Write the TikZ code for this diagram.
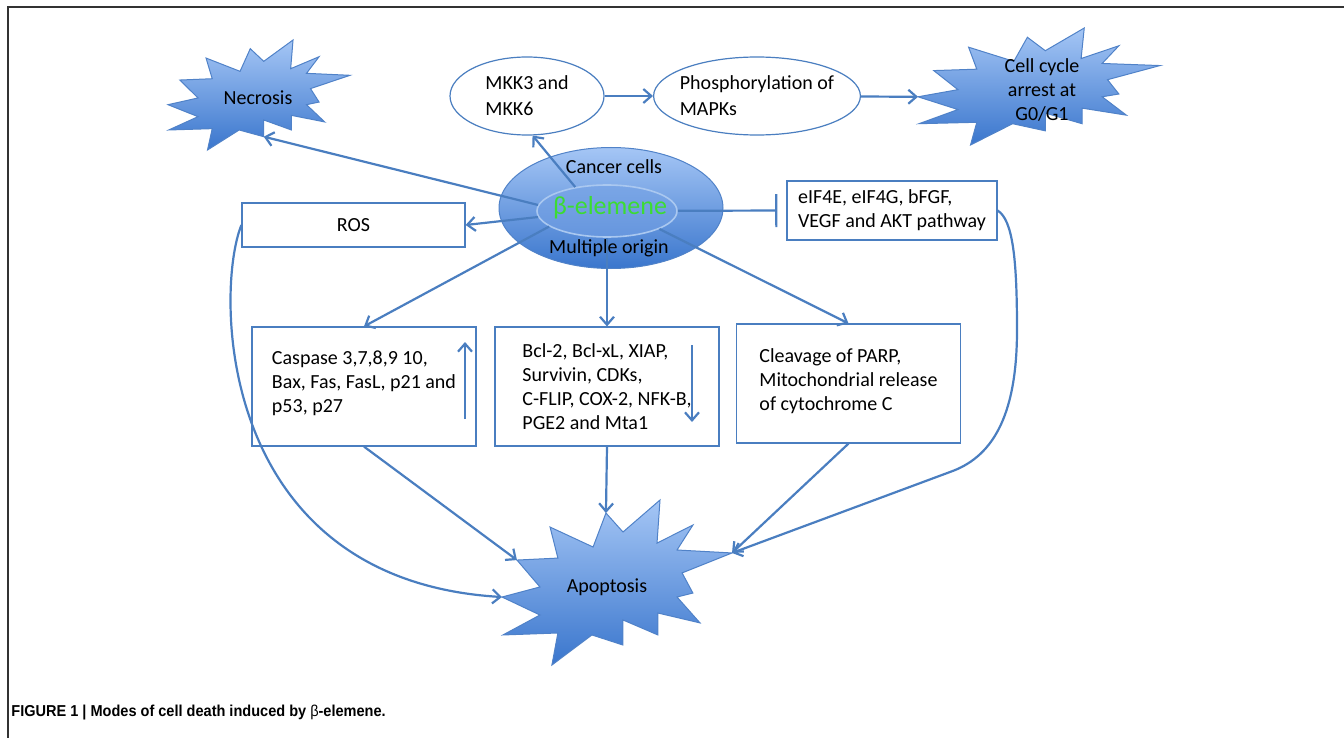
\documentclass[tikz,border=0pt]{standalone}
\usepackage{fontspec}
\setmainfont{Carlito}
\newfontfamily\capfont[FakeStretch=0.92]{Liberation Sans}
\usepackage{tikz}
\usetikzlibrary{arrows.meta,shapes.geometric}

\definecolor{linkblue}{RGB}{74,126,192}
\definecolor{burstlight}{RGB}{165,198,245}
\definecolor{burstdark}{RGB}{58,118,205}
\definecolor{burstline}{RGB}{80,130,200}
\definecolor{innertop}{RGB}{122,166,230}
\definecolor{innerbottom}{RGB}{102,150,222}
\definecolor{innerline}{RGB}{170,200,240}
\definecolor{betagreen}{RGB}{60,220,50}

\tikzset{
  burst/.style={draw=burstline, line width=0.5pt, top color=burstlight, bottom color=burstdark},
  box/.style={draw=linkblue, line width=0.6pt, rectangle, inner sep=0pt, align=left, minimum width=112pt, minimum height=59.5pt},
  oval/.style={draw=linkblue, line width=0.6pt, ellipse, fill=white, inner sep=-2pt, align=left, font=\fontsize{10}{13}\selectfont},
  link/.style={draw=linkblue, line width=1.1pt, -{Straight Barb[length=4pt,width=7pt]}},
  inhib/.style={draw=linkblue, line width=1.1pt, -{Bar[width=16.5pt]}},
}

% explosion outline: name, left, top, width, height
\newcommand{\burstshape}[5]{%
  \begin{scope}[shift={(#2,#3)}, xscale=#4, yscale=#5]
    \path[burst] (0,0.588) coordinate (#1-w) -- (0.165,0.527) -- (0.065,0.364) coordinate (#1-nw)
      -- (0.243,0.352) -- (0.209,0.164) -- (0.396,0.285) -- (0.452,0.079) coordinate (#1-n)
      -- (0.526,0.194) -- (0.687,0) -- (0.674,0.261) -- (0.830,0.152) -- (0.761,0.303)
      -- (1,0.321) coordinate (#1-e) -- (0.783,0.442) -- (0.830,0.564) -- (0.761,0.588)
      -- (0.861,0.745) -- (0.678,0.685) -- (0.678,0.818) -- (0.526,0.727)
      -- (0.526,0.879) coordinate (#1-s) -- (0.391,0.818) -- (0.217,1) -- (0.243,0.806)
      -- (0.004,0.818) -- (0.165,0.697) -- cycle;
  \end{scope}}

\begin{document}
\begin{tikzpicture}[x=0.5pt, y=-0.5pt, font=\fontsize{10}{12}\selectfont]
  \useasboundingbox (0,0) rectangle (1344,738);
  \draw[line width=1pt, black!80] (7.5,738) -- (7.5,7.5) -- (1344,7.5);

  % outcomes
  \burstshape{necro}{168}{40}{182}{110}
  \burstshape{cell}{918}{28}{242}{117}
  \burstshape{apop}{502}{500}{230}{165}
  \node (necrosis) at (258,98) {Necrosis};
  \node[align=center] (arrest) at (1042,90) {Cell cycle\\arrest at\\G0/G1};
  \node (apoptosis) at (607,587) {Apoptosis};

  % MAPK branch
  \node[oval, minimum width=77pt, minimum height=39pt] (mkk) at (527,96) {MKK3 and\\MKK6};
  \node[oval, minimum width=103pt, minimum height=39pt] (phos) at (757,96) {Phosphorylation of\\MAPKs};

  % centre
  \node[ellipse, burst, minimum width=112pt, minimum height=60.5pt] (cancer) at (611,208) {};
  \node[ellipse, draw=innerline, line width=0.8pt, top color=innertop, bottom color=innerbottom, minimum width=70pt, minimum height=26pt] (beta) at (607,211) {};
  \node (cancertxt) at (614,167) {Cancer cells};
  \node[text=betagreen, font=\fontsize{13}{15}\selectfont] (betatxt) at (610,208) {β-elemene};
  \node (origin) at (609,248) {Multiple origin};

  % targets
  \node[box, minimum width=111.5pt, minimum height=22pt] (ros) at (353.5,225) {ROS};
  \node[box, minimum width=105pt, minimum height=29.5pt] (eif) at (892,210.5) {eIF4E, eIF4G, bFGF,\\VEGF and AKT pathway};
  \node[box] (casp) at (364,386.5) {Caspase 3,7,8,9 10,\\Bax, Fas, FasL, p21 and\\p53, p27\\[-7pt]};
  \node[box] (bcl) at (607,386.5) {Bcl-2, Bcl-xL, XIAP,\\Survivin, CDKs,\\C-FLIP, COX-2, NFK-B,\\PGE2 and Mta1};
  \node[box] (parp) at (848.5,383.5) {Cleavage of PARP,\\Mitochondrial release\\of cytochrome C\\[-8.5pt]};

  \coordinate (upA) at (465,419);
  \coordinate (upB) at (465,342);
  \coordinate (downA) at (692,345);
  \coordinate (downB) at (692,422);

  \draw[link] (mkk) -- (phos);
  \draw[link] (phos) -- (cell-w);
  \draw[link] (beta.143) -- (mkk.278);
  \draw[link] (beta.175) -- (necro-s);
  \draw[link] (beta.185) -- (ros.east);
  \draw[inhib, shorten >=4.5pt] (beta) -- (eif.west);
  \draw[link] (beta.195) -- (casp.north);
  \draw[link] (beta.south) -- (bcl.north);
  \draw[link] (beta.341) -- (parp.north);
  \draw[link] (upA) -- (upB);
  \draw[link] (downA) -- (downB);
  \draw[link] (casp.south) -- (apop-nw);
  \draw[link] (bcl.south) -- (apop-n);
  \draw[link] (parp.south) -- (apop-e);
  \draw[link] (ros.west) .. controls (215,290) and (215,580) .. (apop-w);
  \draw[link] (eif.east) .. controls (1013,220) and (1017,260) .. (1017,330)
    .. controls (1017,420) and (990,458) .. (950,472) -- (apop-e);

  \node[anchor=base west, inner sep=0pt, font=\capfont\bfseries\fontsize{7.9}{9}\selectfont] (caption) at (11,716)
    {FIGURE 1 | Modes of cell death induced by {\mdseries β}-elemene.};
\end{tikzpicture}
\end{document}
